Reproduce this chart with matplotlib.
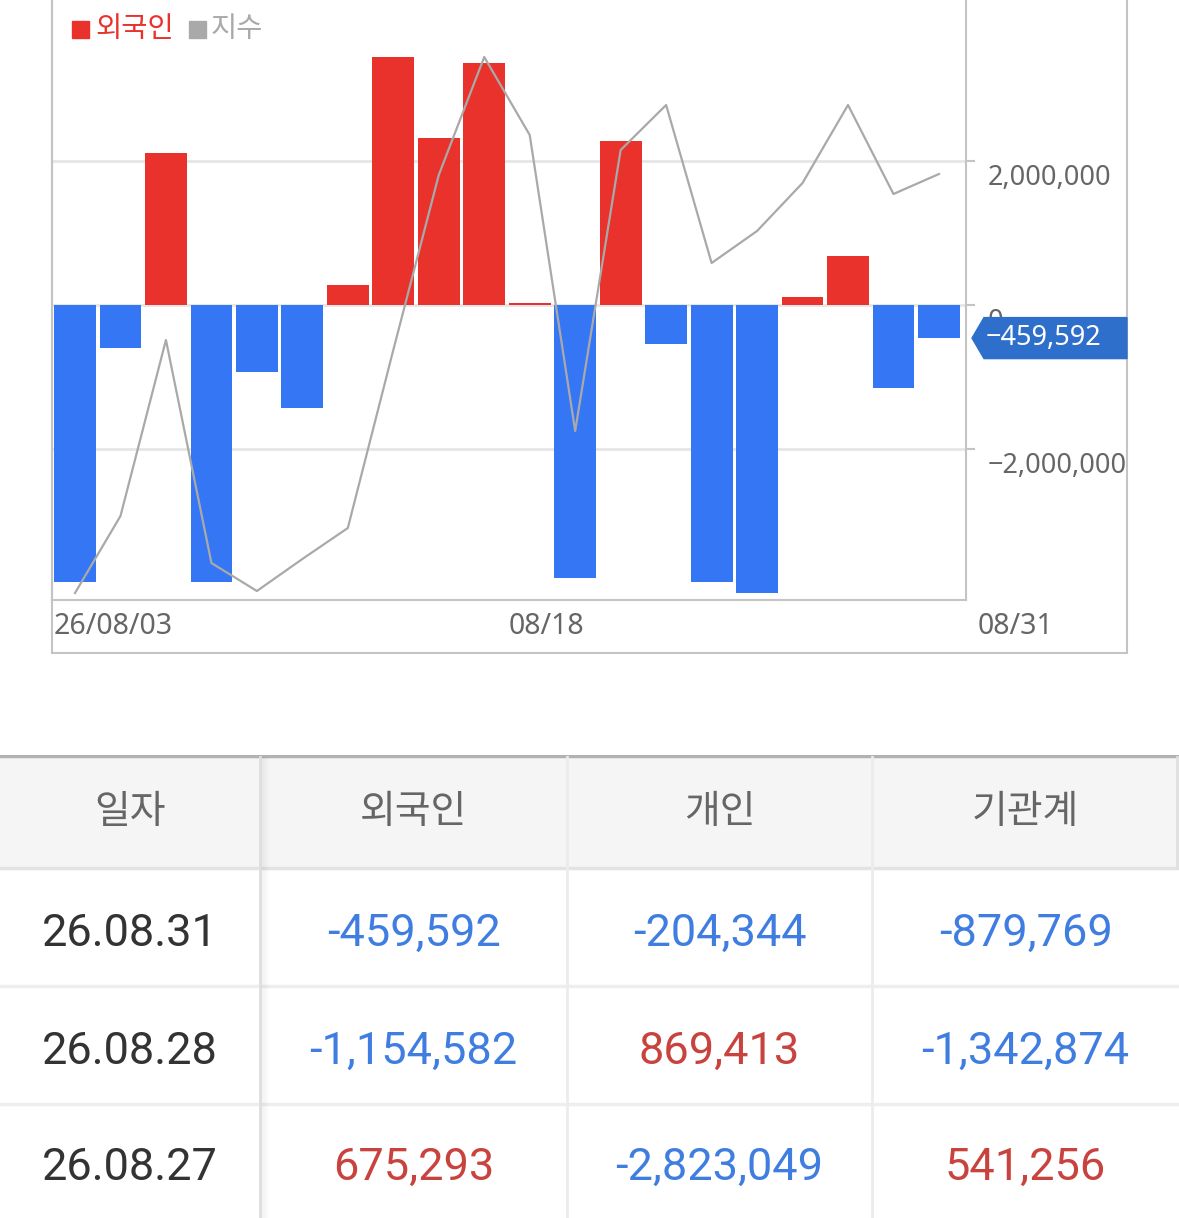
import matplotlib
matplotlib.use('Agg')
import matplotlib.pyplot as plt
from matplotlib.patches import Rectangle, Polygon
from matplotlib.transforms import Affine2D, IdentityTransform, blended_transform_factory, offset_copy

# daily net buying by foreigners (shares) and the index, 2026-08
trade_days = ['08/03', '08/04', '08/05', '08/06', '08/07', '08/10', '08/11', '08/12', '08/13', '08/14',
              '08/18', '08/19', '08/20', '08/21', '08/24', '08/25', '08/26', '08/27', '08/28', '08/31']
foreign_net = [-3850000, -600000, 2110000, -3850000, -930000, -1430000, 280000, 3440000, 2320000, 3360000,
               30000, -3790000, 2280000, -540000, -3850000, -4000000, 110000, 675293, -1154582, -459592]
index_vals = [2963.5, 3002.0, 3090.0, 2978.5, 2964.5, 2980.5, 2996.0, 3085.0, 3172.5, 3231.5,
              3192.5, 3044.5, 3185.0, 3207.5, 3128.5, 3144.5, 3168.5, 3207.5, 3163.0, 3173.0]
y_ticks = [2000000, 0, -2000000]
x_labels = ['26/08/03', '08/18', '08/31']
legend_labels = ['외국인', '지수']

# table below the chart
table_header = ['일자', '외국인', '개인', '기관계']
table_dates = ['26.08.31', '26.08.28', '26.08.27']
table_foreign = foreign_net[::-1][:3]
table_individual = [-204344, 869413, -2823049]
table_institution = [-879769, -1342874, 541256]

RED = '#e8322b'
BLUE = '#3476f4'
GRAY_LINE = '#a9a9a9'
FRAME = '#c4c4c4'

W, H = 1179, 1218
fig = plt.figure(figsize=(W / 100, H / 100), dpi=100)
pix = Affine2D().scale(1, -1).translate(0, H)  # pixel coords measured from the top
chart_font = ['Noto Sans', 'Noto Sans CJK KR']

# chart box
fig.add_artist(Rectangle((52, -5), 1075, 658, transform=pix, fill=False, edgecolor=FRAME, lw=1.5))

ax = fig.add_axes([52 / W, 1 - 600 / H, 914 / W, 600 / H])
x = list(range(len(foreign_net)))
ax.bar(x, foreign_net, width=0.92, color=[RED if v >= 0 else BLUE for v in foreign_net], zorder=2)

ax2 = ax.twinx()
ax2.plot(x, index_vals, color=GRAY_LINE, lw=1.6)
ax2.set_ylim(2960, 3260)
ax2.axis('off')

ax.set_xlim(-0.506, 19.595)
ax.set_ylim(-4.097e6, 4.236e6)
ax.set_xticks([])
ax.set_yticks(y_ticks)
ax.tick_params(axis='y', left=False, right=True, labelleft=False, labelright=False,
               length=6.5, width=1.5, color=FRAME)
ax.grid(axis='y', color='#e6e6e6', lw=2)
ax.set_axisbelow(True)
ax.spines['top'].set_visible(False)
for s in ['left', 'right', 'bottom']:
    ax.spines[s].set_color(FRAME)
    ax.spines[s].set_linewidth(1.5)

ylab_tr = offset_copy(blended_transform_factory(ax.transAxes, ax.transData), fig=fig, x=22, y=-17, units='dots')
for v in y_ticks:
    ax.text(1, v, f'{v:,}'.replace('-', '\u2212'), transform=ylab_tr, ha='left', va='center',
            fontsize=19.5, color='#666666', family=chart_font, zorder=1)

for xf, lab in zip([0.002, 0.5, 1 + 12 / 914], x_labels):
    ax.text(xf, -26 / 600, lab, transform=ax.transAxes, ha='left', va='center',
            fontsize=20.5, color='#666666', family=chart_font)

# legend
fig.add_artist(Rectangle((72, 21), 17, 17, transform=pix, color=RED))
fig.text(95, 29, legend_labels[0], transform=pix, ha='left', va='center', fontsize=20.5,
         color=RED, family=['Noto Sans CJK KR'])
fig.add_artist(Rectangle((189, 21), 17, 17, transform=pix, color=GRAY_LINE))
fig.text(211, 29, legend_labels[1], transform=pix, ha='left', va='center', fontsize=20.5,
         color=GRAY_LINE, family=['Noto Sans CJK KR'])

# last value tag
yv = ax.transData.transform((0, foreign_net[-1]))[1]
tag = [(972, yv), (984, yv + 20.5), (1127, yv + 20.5), (1127, yv - 20.5), (984, yv - 20.5)]
fig.add_artist(Polygon(tag, closed=True, transform=IdentityTransform(), color='#2f6fcc', zorder=5))
fig.text(986, yv, f'{foreign_net[-1]:,}'.replace('-', '\u2212'), transform=IdentityTransform(),
         ha='left', va='center', fontsize=19.5, color='white', family=chart_font, zorder=6)

# table
tab = fig.add_axes([0, 0, 1, (H - 755) / H])
tab.set_xlim(0, W)
tab.set_ylim(H, 755)
tab.axis('off')
col_edges = [0, 260, 567, 872, W]
row_edges = [868, 986, 1104, H]
tab.add_patch(Rectangle((0, 757), W, 111, color='#f5f5f5', lw=0))
tab.axhline(756, color='#b2b2b2', lw=2.5)
tab.axhline(868, color='#e3e3e3', lw=2.5)
for r in row_edges[1:-1]:
    tab.axhline(r, color='#eeeeee', lw=2.5)
for c in col_edges[2:-1]:
    tab.plot([c, c], [757, H], color='#ececec', lw=2)
tab.plot([1177, 1177], [757, 868], color='#e0e0e0', lw=2)
tab.plot([260, 260], [757, H], color='#dedede', lw=2)
for i in range(8):
    tab.plot([261.5 + i, 261.5 + i], [757, H], color='#000000', alpha=0.035 * (8 - i) / 8, lw=1)

centers = [(col_edges[i] + col_edges[i + 1]) / 2 for i in range(4)]
for cx, label in zip(centers, table_header):
    tab.text(cx, 812, label, ha='center', va='center', fontsize=28, color='#666666',
             family=['Noto Sans CJK KR'])

for i, d in enumerate(table_dates):
    cy = (row_edges[i] + row_edges[i + 1]) / 2 + 7
    tab.text(centers[0], cy, d, ha='center', va='center', fontsize=32.5, color='#333333', family=['Roboto'])
    for cx, col in zip(centers[1:], [table_foreign, table_individual, table_institution]):
        v = col[i]
        tab.text(cx, cy, f'{v:,}', ha='center', va='center', fontsize=32.5,
                 color='#c9433e' if v > 0 else '#3f7ee0', family=['Roboto'])

fig.savefig('out.png', dpi=100)
